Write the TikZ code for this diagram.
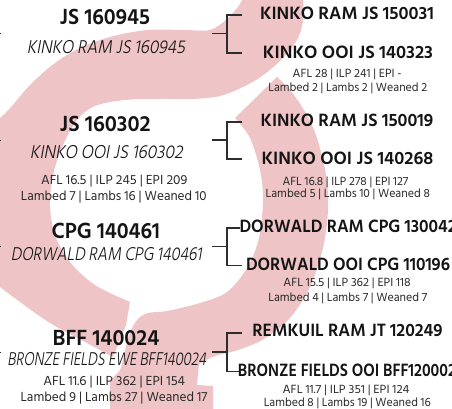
\documentclass[tikz,border=0pt]{standalone}
\usepackage{fontspec}
\setmainfont{Hind Siliguri}
\newfontfamily\sbfont{Hind Siliguri SemiBold}
\newfontfamily\slfont{Hind Siliguri Light}[FakeSlant=0.2]
\newcommand{\fw}[2]{\resizebox{#1pt}{\height}{#2}}
\definecolor{pinkbg}{RGB}{239,196,198}
\definecolor{ink}{RGB}{20,20,20}
\definecolor{inkstat}{RGB}{40,40,40}
\definecolor{conncol}{RGB}{45,45,45}
\tikzset{
  ltitle/.style={anchor=base,inner sep=0pt,text=ink,font=\fontsize{22.5}{24}\selectfont\sbfont},
  lsub/.style={anchor=base,inner sep=0pt,text=ink,font=\fontsize{19}{20}\selectfont\slfont},
  lstat/.style={anchor=base,inner sep=0pt,text=inkstat,font=\fontsize{13.5}{14}\selectfont},
  rtitle/.style={anchor=base,inner sep=0pt,text=ink,font=\fontsize{18.3}{20}\selectfont\sbfont},
  rstat/.style={anchor=base,inner sep=0pt,text=inkstat,font=\fontsize{12.2}{13}\selectfont},
  conn/.style={draw=conncol,line width=1.1pt},
}
\begin{document}
\begin{tikzpicture}[x=1pt,y=-1pt]
\useasboundingbox (0,0) rectangle (452,409);
\begin{scope}
\clip (0,0) rectangle (452,409);
% left hook of the logo
\fill[pinkbg] plot[smooth,tension=0.55] coordinates {(303,-5) (303,20) (297,40) (281,60) (262,76) (243,87) (220,96) (193,99) (160,99) (125,100) (95,106) (77,120) (63,145) (53,175) (50,205) (55,235) (70,262) (95,285) (130,302)}
  -- (126,325) -- (113,357)
  -- plot[smooth,tension=0.55] coordinates {(113,357) (85,342) (50,323) (20,302) (0,287) (-10,278)}
  -- (-10,122)
  -- plot[smooth,tension=0.55] coordinates {(-10,122) (0,118) (12,106) (30,85) (55,63) (80,48) (110,37) (147,30) (185,30) (210,30) (227,19) (240,4) (243,-5)}
  -- cycle;
% right ring and stem of the logo
\fill[pinkbg] plot[smooth,tension=0.55] coordinates {(277,77) (290,90) (304,110) (316,135) (326,175) (328,210) (323,248) (310,287) (290,318) (264,339) (238,350) (215,356) (199,364)}
  -- (197,385) -- (213,386) -- (213,414) -- (110,414) -- (110,380)
  -- plot[smooth,tension=0.55] coordinates {(110,380) (120,370) (124,355) (129,335) (137,320) (148,313) (167,311) (200,303) (227,292) (247,268) (259,238) (263,200) (260,170) (250,138) (235,118)}
  -- cycle;
\end{scope}

% row 1
\node[ltitle] (p1) at (105,25) {\fw{90}{JS 160945}};
\node[lsub] (p1n) at (106,53.3) {\fw{158}{KINKO RAM JS 160945}};
\node[rtitle] (s1) at (347,20) {\fw{174}{KINKO RAM JS 150031}};
\node[rtitle] (d1) at (348,58.3) {\fw{170}{KINKO OOI JS 140323}};
\node[rstat] (d1a) at (347.2,77.3) {\fw{109}{AFL 28 | ILP 241 | EPI -}};
\node[rstat] (d1b) at (347.8,91.7) {\fw{159}{Lambed 2 | Lambs 2 | Weaned 2}};
% row 2
\node[ltitle] (p2) at (105.3,131.7) {\fw{90.7}{JS 160302}};
\node[lsub] (p2n) at (106.3,158.3) {\fw{152.7}{KINKO OOI JS 160302}};
\node[lstat] (p2a) at (114.2,184) {\fw{146.3}{AFL 16.5 | ILP 245 | EPI 209}};
\node[lstat] (p2b) at (113.8,200) {\fw{185.7}{Lambed 7 | Lambs 16 | Weaned 10}};
\node[rtitle] (s2) at (347,126) {\fw{172.7}{KINKO RAM JS 150019}};
\node[rtitle] (d2) at (347.5,164) {\fw{171.7}{KINKO OOI JS 140268}};
\node[rstat] (d2a) at (345.5,185) {\fw{125.7}{AFL 16.8 | ILP 278 | EPI 127}};
\node[rstat] (d2b) at (347.8,197.3) {\fw{164.3}{Lambed 5 | Lambs 10 | Weaned 8}};
% row 3
\node[ltitle] (p3) at (105.8,238.3) {\fw{108.3}{CPG 140461}};
\node[lsub] (p3n) at (106.3,260.7) {\fw{190.7}{DORWALD RAM CPG 140461}};
\node[rtitle,anchor=base west] (s3) at (239.3,232.7) {\fw{217}{DORWALD RAM CPG 130042}};
\node[rtitle] (d3) at (348,270.7) {\fw{204}{DORWALD OOI CPG 110196}};
\node[rstat] (d3a) at (347,286.7) {\fw{127.3}{AFL 15.5 | ILP 362 | EPI 118}};
\node[rstat] (d3b) at (347.8,301.7) {\fw{159}{Lambed 4 | Lambs 7 | Weaned 7}};
% row 4
\node[ltitle] (p4) at (106,345) {\fw{106.7}{BFF 140024}};
\node[lsub] (p4n) at (106.7,365) {\fw{198.7}{BRONZE FIELDS EWE BFF140024}};
\node[lstat] (p4a) at (114.2,385) {\fw{141.7}{AFL 11.6 | ILP 362 | EPI 154}};
\node[lstat] (p4b) at (114,401.7) {\fw{186.7}{Lambed 9 | Lambs 27 | Weaned 17}};
\node[rtitle] (s4) at (347.5,336.7) {\fw{190.3}{REMKUIL RAM JT 120249}};
\node[rtitle,anchor=base west] (d4) at (237.7,376.7) {\fw{218}{BRONZE FIELDS OOI BFF120002}};
\node[rstat] (d4a) at (346,393.3) {\fw{127}{AFL 11.7 | ILP 351 | EPI 124}};
\node[rstat] (d4b) at (347.3,406.3) {\fw{167}{Lambed 8 | Lambs 19 | Weaned 16}};

% bracket connectors
\coordinate (st1) at (212,33.5);  \coordinate (j1) at (227,33.5);
\coordinate (a1) at (242,15);     \coordinate (b1) at (242,53);
\coordinate (st2) at (212,140);   \coordinate (j2) at (227,140);
\coordinate (a2) at (242,122);    \coordinate (b2) at (242,159);
\coordinate (st3) at (212,246.7); \coordinate (j3) at (227,246.7);
\coordinate (a3) at (240,228);    \coordinate (b3) at (242,265.7);
\coordinate (st4) at (212,352);   \coordinate (j4) at (227,352);
\coordinate (a4) at (242,333);    \coordinate (b4) at (238.5,371.7);
\foreach \i in {1,2,3,4}{
  \draw[conn] (st\i) -- (j\i);
  \draw[conn] (a\i) -| (j\i) |- (b\i);
}
% stubs of the parent connectors at the left edge
\coordinate (e1) at (1.3,33.5);  \coordinate (f1) at (-2,33.5);
\coordinate (e2) at (1.3,140);   \coordinate (f2) at (-2,140);
\coordinate (e3) at (1.3,246.7); \coordinate (f3) at (-2,246.7);
\coordinate (e4) at (1.3,352);   \coordinate (f4) at (-2,352);
\foreach \i in {1,2,3,4}{
  \draw[conn,line width=0.8pt] (f\i) -- (e\i);
}
\end{tikzpicture}
\end{document}
